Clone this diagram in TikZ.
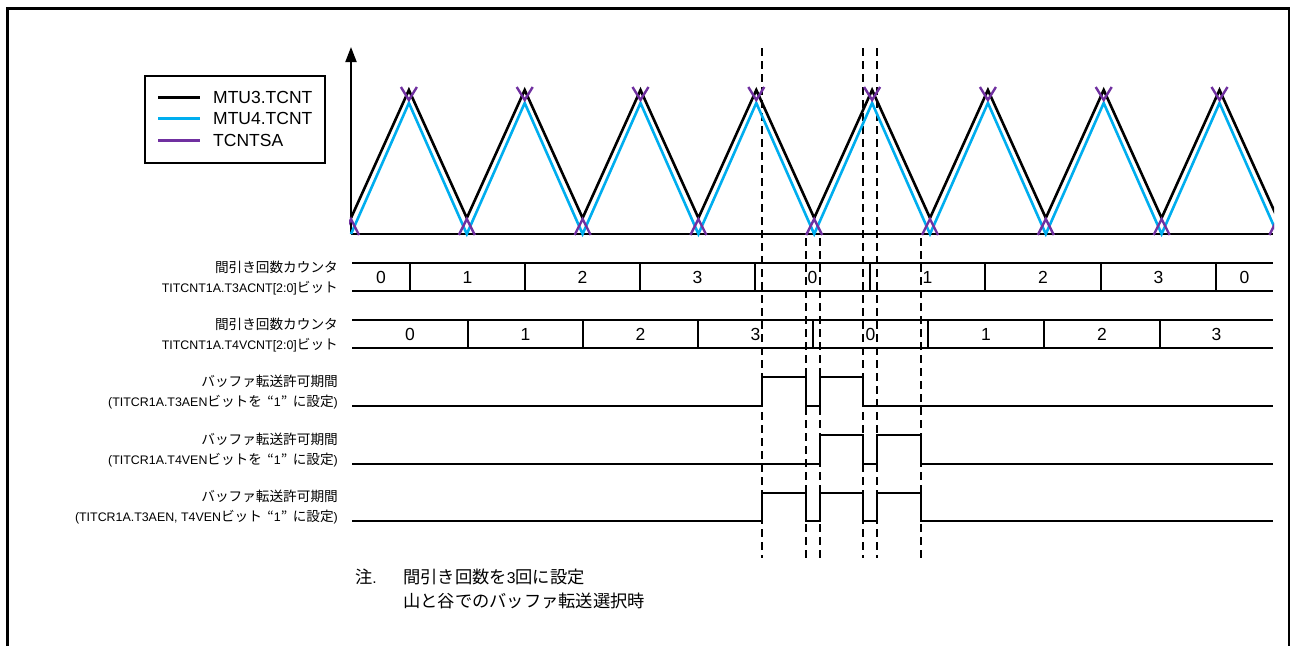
\documentclass[tikz,border=0pt]{standalone}
\usepackage{fontspec}
\setmainfont{Liberation Sans}
\newfontfamily\jp{Noto Sans CJK JP}[Scale=1.1]
\usetikzlibrary{arrows.meta}
\definecolor{tcntblue}{RGB}{0,174,239}
\definecolor{tsapurple}{RGB}{112,48,160}
\newcommand\qone{{\jp\hspace{0.4em}“}1{\jp ”\hspace{0.4em}}}
\tikzset{
  every node/.style={inner sep=0pt},
  wave/.style={line width=2.6pt, line join=miter},
  black wave/.style={wave, draw=black},
  blue wave/.style={wave, draw=tcntblue},
  sa mark/.style={line width=2.4pt, draw=tsapurple},
  sig/.style={line width=1.6pt},
  guide/.style={line width=1.1pt, dash pattern=on 8pt off 5pt},
  lbl/.style={anchor=east, align=right, font=\fontsize{12.4}{20.5}\selectfont},
  val/.style={font=\fontsize{17.5}{20}\selectfont},
  legend text/.style={anchor=west, font=\fontsize{17.5}{20}\selectfont},
  note/.style={anchor=west, font=\fontsize{15.7}{24}\selectfont}
}

\begin{document}
\begin{tikzpicture}[x=1pt,y=-1pt]
  \useasboundingbox (0,0) rectangle (1290,646);

  % frame
  \draw[line width=3pt] (7.5,646) -- (7.5,8.5) -- (1290,8.5);
  \draw[line width=1.5pt] (1289,8.5) -- (1289,646);

  % legend
  \node[draw, line width=1.5pt, minimum width=180pt, minimum height=87pt,
    anchor=north west] (legend) at (144,75) {};
  \foreach \y/\c/\t [count=\i] in {97/black/MTU3.TCNT,118/tcntblue/MTU4.TCNT,140/tsapurple/TCNTSA} {
    \coordinate (leg\i) at (158,\y);
    \draw[line width=3pt, draw=\c] (leg\i) -- ++(42,0);
    \node[legend text] (legt\i) at (213,\y) {\t};
  }

  % axes
  \coordinate (origin) at (351,234);
  \coordinate (ytop) at (351,47);
  \coordinate (xend) at (1273,234);
  \draw[line width=1.8pt, -{Triangle[width=11pt,length=15pt]}] (origin) -- (ytop);
  \draw[line width=2pt] (origin) -- (xend);

  % guide lines
  \foreach \x in {762,863,877} \draw[guide] (\x,48) -- (\x,558);
  \foreach \x in {806,820,921} \draw[guide] (\x,238) -- (\x,558);

  % counters
  \begin{scope}
    \clip (349,40) rectangle (1274,240);
    \draw[black wave] (351,218) \foreach \k in {0,...,7} {
      -- ({408.9+115.8*\k},90) -- ({466.8+115.8*\k},218) };
    \draw[blue wave] (351,234) \foreach \k in {0,...,7} {
      -- ({408.9+115.8*\k},103) -- ({466.8+115.8*\k},234) };
    \foreach \k in {0,...,7}
      \draw[sa mark] ({400.9+115.8*\k},87) -- ({408.9+115.8*\k},100) -- ({416.9+115.8*\k},87);
    \foreach \k in {0,...,8}
      \draw[sa mark] ({343+115.8*\k},235) -- ({351+115.8*\k},219) -- ({359+115.8*\k},235);
  \end{scope}

  % T3ACNT
  \draw[sig] (352,263) -- (1273,263) (352,291) -- (1273,291);
  \foreach \x in {410,525,640,755,870,985,1101,1216} \draw[sig] (\x,263) -- (\x,291);
  \foreach \xa/\xb/\v [count=\i] in {352/410/0,410/525/1,525/640/2,640/755/3,755/870/0,
      870/985/1,985/1101/2,1101/1216/3,1216/1273/0}
    \node[val] (a\i) at ({(\xa+\xb)/2},277) {\v};

  % T4VCNT
  \draw[sig] (352,320) -- (1273,320) (352,348) -- (1273,348);
  \foreach \x in {468,583,698,813,928,1044,1160} \draw[sig] (\x,320) -- (\x,348);
  \foreach \xa/\xb/\v [count=\i] in {352/468/0,468/583/1,583/698/2,698/813/3,813/928/0,
      928/1044/1,1044/1160/2,1160/1273/3}
    \node[val] (b\i) at ({(\xa+\xb)/2},334) {\v};

  % enable periods
  \draw[sig] (352,406) -| (762,377) -| (806,406) -| (820,377) -| (863,406) -- (1273,406);
  \draw[sig] (352,464) -| (820,435) -| (863,464) -| (877,435) -| (921,464) -- (1273,464);
  \draw[sig] (352,521) -| (762,493) -| (806,521) -| (820,493) -| (863,521)
    -| (877,493) -| (921,521) -- (1273,521);

  % labels
  \node[lbl] (cnt3lbl) at (338,278) {{\jp 間引き回数カウンタ}\\TITCNT1A.T3ACNT[2:0]{\jp ビット}};
  \node[lbl] (cnt4lbl) at (338,335) {{\jp 間引き回数カウンタ}\\TITCNT1A.T4VCNT[2:0]{\jp ビット}};
  \node[lbl] (en3lbl) at (338,392) {{\jp バッファ転送許可期間}\\(TITCR1A.T3AEN{\jp ビットを}\qone{\jp に設定})};
  \node[lbl] (en4lbl) at (338,450) {{\jp バッファ転送許可期間}\\(TITCR1A.T4VEN{\jp ビットを}\qone{\jp に設定})};
  \node[lbl] (enblbl) at (338,507) {{\jp バッファ転送許可期間}\\(TITCR1A.T3AEN, T4VEN{\jp ビット}\qone{\jp に設定})};

  % note
  \node[note] (notemark) at (355,577) {{\jp 注}.};
  \node[note] (note1) at (403,577) {{\jp 間引き回数を}3{\jp 回に設定}};
  \node[note] (note2) at (403,601) {\jp 山と谷でのバッファ転送選択時};
\end{tikzpicture}
\end{document}
